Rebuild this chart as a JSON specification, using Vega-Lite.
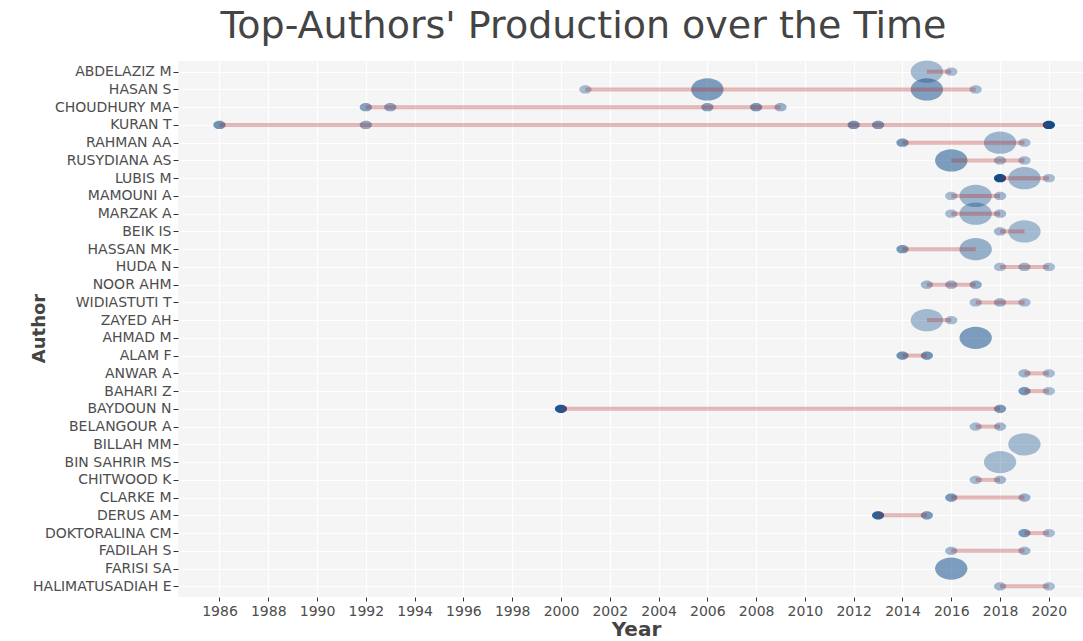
{
  "$schema": "https://vega.github.io/schema/vega-lite/v6.json",
  "autosize": {"type": "none"},
  "padding": {"left": 178, "top": 61, "right": 0, "bottom": 44},
  "width": 905,
  "height": 536,
  "background": "white",
  "title": {
    "text": "Top-Authors' Production over the Time",
    "font": "DejaVu Sans",
    "fontSize": 38,
    "fontWeight": "normal",
    "color": "#444444",
    "anchor": "middle",
    "dx": -47,
    "baseline": "alphabetic",
    "offset": -16
  },
  "config": {
    "view": {"fill": "#F5F5F5", "stroke": null},
    "axis": {
      "labelFont": "DejaVu Sans",
      "labelColor": "#4D4D4D",
      "labelFontSize": 14,
      "titleFont": "DejaVu Sans",
      "titleColor": "#444444",
      "titleFontWeight": "bold",
      "gridColor": "#FFFFFF",
      "gridWidth": 1.2,
      "gridOpacity": 1,
      "domain": false,
      "tickColor": "#333333"
    }
  },
  "data": {
    "values": [
      {"author": "ABDELAZIZ M", "year": 2015, "freq": 2, "tc": 1},
      {"author": "ABDELAZIZ M", "year": 2016, "freq": 1, "tc": 1},
      {"author": "HASAN S", "year": 2001, "freq": 1, "tc": 1},
      {"author": "HASAN S", "year": 2006, "freq": 2, "tc": 4},
      {"author": "HASAN S", "year": 2015, "freq": 2, "tc": 3.5},
      {"author": "HASAN S", "year": 2017, "freq": 1, "tc": 1},
      {"author": "CHOUDHURY MA", "year": 1992, "freq": 1, "tc": 3.5},
      {"author": "CHOUDHURY MA", "year": 1993, "freq": 1, "tc": 3},
      {"author": "CHOUDHURY MA", "year": 2006, "freq": 1, "tc": 3.5},
      {"author": "CHOUDHURY MA", "year": 2008, "freq": 1, "tc": 4.5},
      {"author": "CHOUDHURY MA", "year": 2009, "freq": 1, "tc": 2},
      {"author": "KURAN T", "year": 1986, "freq": 1, "tc": 5},
      {"author": "KURAN T", "year": 1992, "freq": 1, "tc": 3},
      {"author": "KURAN T", "year": 2012, "freq": 1, "tc": 5},
      {"author": "KURAN T", "year": 2013, "freq": 1, "tc": 4.5},
      {"author": "KURAN T", "year": 2020, "freq": 1, "tc": 12},
      {"author": "RAHMAN AA", "year": 2014, "freq": 1, "tc": 4.5},
      {"author": "RAHMAN AA", "year": 2018, "freq": 2, "tc": 1.5},
      {"author": "RAHMAN AA", "year": 2019, "freq": 1, "tc": 1},
      {"author": "RUSYDIANA AS", "year": 2016, "freq": 2, "tc": 4},
      {"author": "RUSYDIANA AS", "year": 2018, "freq": 1, "tc": 1.5},
      {"author": "RUSYDIANA AS", "year": 2019, "freq": 1, "tc": 1},
      {"author": "LUBIS M", "year": 2018, "freq": 1, "tc": 12},
      {"author": "LUBIS M", "year": 2019, "freq": 2, "tc": 1.5},
      {"author": "LUBIS M", "year": 2020, "freq": 1, "tc": 1},
      {"author": "MAMOUNI A", "year": 2016, "freq": 1, "tc": 1},
      {"author": "MAMOUNI A", "year": 2017, "freq": 2, "tc": 1.5},
      {"author": "MAMOUNI A", "year": 2018, "freq": 1, "tc": 1.5},
      {"author": "MARZAK A", "year": 2016, "freq": 1, "tc": 1},
      {"author": "MARZAK A", "year": 2017, "freq": 2, "tc": 1.5},
      {"author": "MARZAK A", "year": 2018, "freq": 1, "tc": 1.5},
      {"author": "BEIK IS", "year": 2018, "freq": 1, "tc": 1.5},
      {"author": "BEIK IS", "year": 2019, "freq": 2, "tc": 1},
      {"author": "HASSAN MK", "year": 2014, "freq": 1, "tc": 4.5},
      {"author": "HASSAN MK", "year": 2017, "freq": 2, "tc": 2},
      {"author": "HUDA N", "year": 2018, "freq": 1, "tc": 1},
      {"author": "HUDA N", "year": 2019, "freq": 1, "tc": 1.5},
      {"author": "HUDA N", "year": 2020, "freq": 1, "tc": 1},
      {"author": "NOOR AHM", "year": 2015, "freq": 1, "tc": 1.5},
      {"author": "NOOR AHM", "year": 2016, "freq": 1, "tc": 2},
      {"author": "NOOR AHM", "year": 2017, "freq": 1, "tc": 3},
      {"author": "WIDIASTUTI T", "year": 2017, "freq": 1, "tc": 1},
      {"author": "WIDIASTUTI T", "year": 2018, "freq": 1, "tc": 2},
      {"author": "WIDIASTUTI T", "year": 2019, "freq": 1, "tc": 1},
      {"author": "ZAYED AH", "year": 2015, "freq": 2, "tc": 1},
      {"author": "ZAYED AH", "year": 2016, "freq": 1, "tc": 1},
      {"author": "AHMAD M", "year": 2017, "freq": 2, "tc": 4},
      {"author": "ALAM F", "year": 2014, "freq": 1, "tc": 5},
      {"author": "ALAM F", "year": 2015, "freq": 1, "tc": 5},
      {"author": "ANWAR A", "year": 2019, "freq": 1, "tc": 1.5},
      {"author": "ANWAR A", "year": 2020, "freq": 1, "tc": 1},
      {"author": "BAHARI Z", "year": 2019, "freq": 1, "tc": 4.5},
      {"author": "BAHARI Z", "year": 2020, "freq": 1, "tc": 1},
      {"author": "BAYDOUN N", "year": 2000, "freq": 1, "tc": 11},
      {"author": "BAYDOUN N", "year": 2018, "freq": 1, "tc": 4.5},
      {"author": "BELANGOUR A", "year": 2017, "freq": 1, "tc": 1},
      {"author": "BELANGOUR A", "year": 2018, "freq": 1, "tc": 1.5},
      {"author": "BILLAH MM", "year": 2019, "freq": 2, "tc": 1},
      {"author": "BIN SAHRIR MS", "year": 2018, "freq": 2, "tc": 1},
      {"author": "CHITWOOD K", "year": 2017, "freq": 1, "tc": 1},
      {"author": "CHITWOOD K", "year": 2018, "freq": 1, "tc": 1.5},
      {"author": "CLARKE M", "year": 2016, "freq": 1, "tc": 4.5},
      {"author": "CLARKE M", "year": 2019, "freq": 1, "tc": 2},
      {"author": "DERUS AM", "year": 2013, "freq": 1, "tc": 10},
      {"author": "DERUS AM", "year": 2015, "freq": 1, "tc": 4.5},
      {"author": "DOKTORALINA CM", "year": 2019, "freq": 1, "tc": 4.5},
      {"author": "DOKTORALINA CM", "year": 2020, "freq": 1, "tc": 1},
      {"author": "FADILAH S", "year": 2016, "freq": 1, "tc": 1.5},
      {"author": "FADILAH S", "year": 2019, "freq": 1, "tc": 1.5},
      {"author": "FARISI SA", "year": 2016, "freq": 2, "tc": 4},
      {"author": "HALIMATUSADIAH E", "year": 2018, "freq": 1, "tc": 1.5},
      {"author": "HALIMATUSADIAH E", "year": 2020, "freq": 1, "tc": 1}
    ]
  },
  "encoding": {
    "x": {
      "field": "year",
      "type": "quantitative",
      "scale": {"domain": [1984.3, 2021.4], "nice": false, "zero": false},
      "axis": {
        "values": [1986, 1988, 1990, 1992, 1994, 1996, 1998, 2000, 2002, 2004, 2006, 2008, 2010, 2012, 2014, 2016, 2018, 2020],
        "format": "d",
        "title": "Year",
        "titleFontSize": 20,
        "titleX": 458,
        "titleY": 38,
        "titleBaseline": "alphabetic",
        "tickSize": 4,
        "labelPadding": 3
      }
    },
    "y": {
      "field": "author",
      "type": "nominal",
      "sort": ["ABDELAZIZ M", "HASAN S", "CHOUDHURY MA", "KURAN T", "RAHMAN AA", "RUSYDIANA AS", "LUBIS M", "MAMOUNI A", "MARZAK A", "BEIK IS", "HASSAN MK", "HUDA N", "NOOR AHM", "WIDIASTUTI T", "ZAYED AH", "AHMAD M", "ALAM F", "ANWAR A", "BAHARI Z", "BAYDOUN N", "BELANGOUR A", "BILLAH MM", "BIN SAHRIR MS", "CHITWOOD K", "CLARKE M", "DERUS AM", "DOKTORALINA CM", "FADILAH S", "FARISI SA", "HALIMATUSADIAH E"],
      "scale": {"type": "point", "padding": 0.6},
      "axis": {
        "title": "Author",
        "titleFontSize": 18,
        "titleAngle": 270,
        "titleX": -134,
        "titleY": 267,
        "titleAlign": "center",
        "titleBaseline": "alphabetic",
        "tickSize": 5,
        "labelPadding": 2,
        "grid": true
      }
    }
  },
  "layer": [
    {
      "mark": {
        "type": "point",
        "filled": true,
        "shape": "M-1,0A1,0.69,0,1,1,1,0A1,0.69,0,1,1,-1,0Z",
        "color": "#104E8B",
        "strokeWidth": 0
      },
      "encoding": {
        "size": {"field": "freq", "type": "quantitative", "scale": {"domain": [1, 2], "range": [150, 1050]}, "legend": null},
        "opacity": {"field": "tc", "type": "quantitative", "scale": {"domain": [0, 12], "range": [0.3, 1]}, "legend": null}
      }
    },
    {
      "mark": {"type": "line", "color": "#B22222", "opacity": 0.3, "strokeWidth": 4},
      "encoding": {
        "detail": {"field": "author", "type": "nominal"}
      }
    }
  ]
}
